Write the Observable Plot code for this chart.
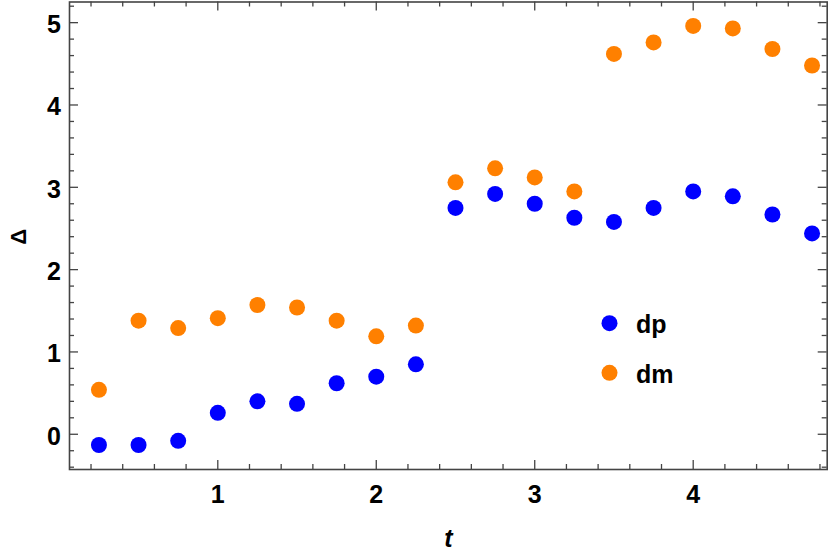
<!DOCTYPE html>
<html>
<head>
<meta charset="utf-8">
<script src="https://cdn.jsdelivr.net/npm/d3@7"></script>
<script src="https://cdn.jsdelivr.net/npm/@observablehq/plot@0.6"></script>
<style>
  html, body { margin: 0; padding: 0; background: #fff; }
  #chart svg { display: block; }
</style>
</head>
<body>
<div id="chart"></div>
<script>
// ---- data ----
const t  = [0.25, 0.5, 0.75, 1.0, 1.25, 1.5, 1.75, 2.0, 2.25, 2.5, 2.75, 3.0, 3.25, 3.5, 3.75, 4.0, 4.25, 4.5, 4.75];
const dp = [-0.13, -0.13, -0.08, 0.26, 0.40, 0.37, 0.62, 0.70, 0.85, 2.75, 2.92, 2.80, 2.63, 2.58, 2.75, 2.95, 2.89, 2.67, 2.44];
const dm = [0.54, 1.38, 1.29, 1.41, 1.57, 1.54, 1.38, 1.19, 1.32, 3.06, 3.23, 3.12, 2.95, 4.62, 4.76, 4.96, 4.93, 4.68, 4.48];
const seriesNames = ["dp", "dm"];
const seriesColors = ["#0000ff", "#ff8000"];

const xMajor = [1, 2, 3, 4];
const xMinor = [0.2, 0.4, 0.6, 0.8, 1.2, 1.4, 1.6, 1.8, 2.2, 2.4, 2.6, 2.8, 3.2, 3.4, 3.6, 3.8, 4.2, 4.4, 4.6, 4.8];
const yMajor = [0, 1, 2, 3, 4, 5];
const yMinor = [-0.4, -0.2, 0.2, 0.4, 0.6, 0.8, 1.2, 1.4, 1.6, 1.8, 2.2, 2.4, 2.6, 2.8, 3.2, 3.4, 3.6, 3.8, 4.2, 4.4, 4.6, 4.8, 5.2];
const xLabel = "t";
const yLabel = "Δ";

// ---- build table ----
const rows = [];
t.forEach((tv, i) => {
  rows.push({t: tv, v: dp[i], s: "dp"});
  rows.push({t: tv, v: dm[i], s: "dm"});
});

// ---- layout ----
const W = 830, H = 558;
const mL = 69, mT = 1.5, mR = 3.3, mB = 89;
const innerW = W - mL - mR, innerH = H - mT - mB;
const majorLen = 9, minorLen = 5;
const axisColor = "#444";
const font = "'Liberation Sans', Arial, sans-serif";
const labelSize = 25;

const tickStyle = {stroke: axisColor, strokeWidth: 1.3};
const textStyle = {fontSize: labelSize, fontWeight: "bold", fill: "#000", lineAnchor: "middle"};

const marks = [
  // ticks bottom / top
  Plot.tickX(xMajor, {x: d => d, insetTop: innerH - majorLen, ...tickStyle}),
  Plot.tickX(xMinor, {x: d => d, insetTop: innerH - minorLen, ...tickStyle}),
  Plot.tickX(xMajor, {x: d => d, insetBottom: innerH - majorLen, ...tickStyle}),
  Plot.tickX(xMinor, {x: d => d, insetBottom: innerH - minorLen, ...tickStyle}),
  // ticks left / right
  Plot.tickY(yMajor, {y: d => d, insetRight: innerW - majorLen, ...tickStyle}),
  Plot.tickY(yMinor, {y: d => d, insetRight: innerW - minorLen, ...tickStyle}),
  Plot.tickY(yMajor, {y: d => d, insetLeft: innerW - majorLen, ...tickStyle}),
  Plot.tickY(yMinor, {y: d => d, insetLeft: innerW - minorLen, ...tickStyle}),
  Plot.frame({stroke: axisColor, strokeWidth: 1.6}),
  // tick labels
  Plot.text(xMajor, {x: d => d, text: d => String(d), frameAnchor: "bottom", dy: 25, textAnchor: "middle", ...textStyle}),
  Plot.text(yMajor, {y: d => d, text: d => String(d), frameAnchor: "left", dx: -8.5, dy: 2.5, textAnchor: "end", ...textStyle}),
  // axis labels
  Plot.text([xLabel], {text: d => d, frameAnchor: "bottom", dx: 0, dy: 69, textAnchor: "middle", ...textStyle, fontStyle: "italic"}),
  Plot.text([yLabel], {text: d => d, frameAnchor: "left", dx: -50.5, dy: 1, rotate: -90, textAnchor: "middle", ...textStyle, fontSize: 22}),
  // data
  Plot.dot(rows, {x: "t", y: "v", fill: d => seriesColors[seriesNames.indexOf(d.s)], r: 8, stroke: null}),
];

// legend (inside plot)
const legendDotDx = 540, legendTextDx = 566.5;
const legendDy = [321.2, 370.8];
const legendTextDy = [322.5, 373];
seriesNames.forEach((name, i) => {
  marks.push(Plot.dot([name], {frameAnchor: "top-left", dx: legendDotDx, dy: legendDy[i], r: 8, fill: seriesColors[i]}));
  marks.push(Plot.text([name], {text: d => d, frameAnchor: "top-left", dx: legendTextDx, dy: legendTextDy[i], textAnchor: "start", ...textStyle}));
});

const chart = Plot.plot({
  width: W,
  height: H,
  marginLeft: mL, marginTop: mT, marginRight: mR, marginBottom: mB,
  style: {fontFamily: font, background: "#fff", overflow: "visible"},
  x: {domain: [0.0642, 4.8456], axis: null},
  y: {domain: [-0.428, 5.251], axis: null},
  marks
});
document.getElementById("chart").append(chart);
</script>
</body>
</html>
